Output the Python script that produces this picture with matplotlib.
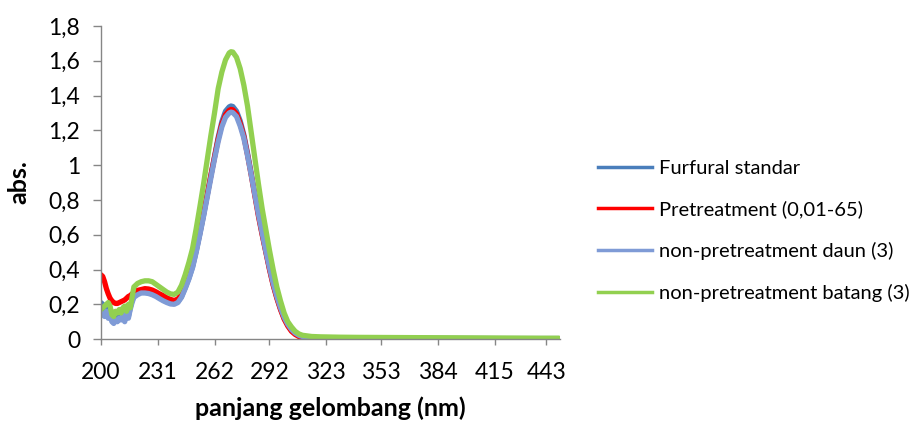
import matplotlib
matplotlib.use("Agg")
import matplotlib.pyplot as plt
from matplotlib.lines import Line2D

plt.rcParams['font.family'] = ['Lato', 'DejaVu Sans']

series_names = ["Furfural standar", "Pretreatment (0,01-65)",
                "non-pretreatment daun (3)", "non-pretreatment batang (3)"]
series_colors = ["#4A7EBB", "#FF0000", "#7F9BD6", "#92D050"]

wavelength = [200, 201, 202, 203, 204, 205, 206, 207, 208, 209, 210, 211, 212, 213,
              214, 215, 216, 217, 218, 220, 222, 224, 226, 228, 230, 232, 234, 236,
              238, 240, 242, 244, 246, 248, 250, 252, 254, 256, 258, 260, 262, 264,
              266, 268, 270, 271, 272, 274, 276, 278, 280, 282, 284, 286, 288, 290,
              292, 294, 296, 298, 300, 302, 304, 306, 308, 310, 315, 320, 330, 340,
              360, 380, 400, 420, 440, 450]

furfural = [0.21, 0.20, 0.17, 0.19, 0.14, 0.15, 0.11, 0.10, 0.12, 0.11, 0.13, 0.12,
            0.15, 0.11, 0.16, 0.13, 0.18, 0.22, 0.245, 0.26, 0.27, 0.27, 0.267, 0.26,
            0.25, 0.237, 0.225, 0.215, 0.207, 0.205, 0.215, 0.245, 0.295, 0.35, 0.415,
            0.505, 0.605, 0.71, 0.825, 0.94, 1.05, 1.16, 1.25, 1.31, 1.335, 1.34,
            1.337, 1.31, 1.255, 1.175, 1.07, 0.955, 0.835, 0.715, 0.605, 0.505, 0.405,
            0.315, 0.24, 0.175, 0.12, 0.08, 0.05, 0.032, 0.02, 0.013, 0.008, 0.006,
            0.005, 0.005, 0.004, 0.004, 0.003, 0.003, 0.003, 0.003]

pretreatment = [0.37, 0.36, 0.33, 0.29, 0.26, 0.235, 0.22, 0.21, 0.205, 0.205, 0.21,
                0.215, 0.22, 0.225, 0.235, 0.245, 0.25, 0.26, 0.265, 0.28, 0.285, 0.29,
                0.288, 0.282, 0.272, 0.26, 0.25, 0.237, 0.228, 0.222, 0.23, 0.26, 0.31,
                0.36, 0.425, 0.515, 0.615, 0.72, 0.83, 0.94, 1.045, 1.15, 1.235, 1.29,
                1.315, 1.32, 1.318, 1.295, 1.24, 1.165, 1.06, 0.945, 0.825, 0.705, 0.60,
                0.50, 0.40, 0.31, 0.235, 0.17, 0.115, 0.075, 0.045, 0.027, 0.015, 0.008,
                0.003, 0.002, 0.002, 0.002, 0.002, 0.002, 0.002, 0.002, 0.002, 0.002]

daun = [0.15, 0.14, 0.13, 0.16, 0.12, 0.14, 0.10, 0.09, 0.11, 0.10, 0.12, 0.11, 0.14,
        0.10, 0.15, 0.12, 0.17, 0.21, 0.24, 0.255, 0.265, 0.265, 0.262, 0.255, 0.245,
        0.232, 0.22, 0.21, 0.202, 0.20, 0.21, 0.24, 0.29, 0.345, 0.41, 0.50, 0.60,
        0.705, 0.815, 0.925, 1.035, 1.135, 1.22, 1.275, 1.30, 1.305, 1.302, 1.28, 1.225,
        1.155, 1.055, 0.945, 0.83, 0.715, 0.61, 0.505, 0.41, 0.32, 0.245, 0.18, 0.125,
        0.085, 0.055, 0.035, 0.022, 0.015, 0.009, 0.007, 0.006, 0.005, 0.005, 0.004,
        0.004, 0.003, 0.003, 0.003]

batang = [0.17, 0.18, 0.19, 0.20, 0.21, 0.19, 0.14, 0.13, 0.16, 0.15, 0.17, 0.15, 0.18,
          0.19, 0.16, 0.20, 0.18, 0.24, 0.30, 0.32, 0.33, 0.335, 0.335, 0.33, 0.315,
          0.30, 0.285, 0.27, 0.26, 0.257, 0.27, 0.31, 0.37, 0.44, 0.52, 0.635, 0.76,
          0.89, 1.03, 1.17, 1.30, 1.44, 1.535, 1.605, 1.645, 1.652, 1.65, 1.62, 1.555,
          1.46, 1.34, 1.19, 1.04, 0.89, 0.75, 0.63, 0.51, 0.40, 0.30, 0.22, 0.15, 0.10,
          0.07, 0.045, 0.03, 0.022, 0.015, 0.013, 0.011, 0.010, 0.009, 0.008, 0.007,
          0.006, 0.005, 0.005]

x_ticks = [200, 231, 262, 292, 323, 353, 384, 415, 443]
y_ticks = [0, 0.2, 0.4, 0.6, 0.8, 1.0, 1.2, 1.4, 1.6, 1.8]
y_ticklabels = ["0", "0,2", "0,4", "0,6", "0,8", "1", "1,2", "1,4", "1,6", "1,8"]

fig = plt.figure(figsize=(9.09, 4.26), dpi=100)
ax = fig.add_axes([0.111, 0.204, 0.505, 0.735])

all_series = [furfural, pretreatment, daun, batang]
for vals, col in zip(all_series, series_colors):
    ax.plot(wavelength, vals, color=col, lw=3.8, solid_capstyle='round',
            solid_joinstyle='round')

ax.set_xlim(200, 450.5)
ax.set_ylim(0, 1.8)
ax.set_xticks(x_ticks)
ax.set_xticklabels([str(t) for t in x_ticks])
ax.set_yticks(y_ticks)
ax.set_yticklabels(y_ticklabels)

for s in ['top', 'right']:
    ax.spines[s].set_visible(False)
for s in ['left', 'bottom']:
    ax.spines[s].set_color('#868686')
    ax.spines[s].set_linewidth(1.0)

ax.tick_params(axis='both', direction='out', color='#868686',
               width=1.0, labelsize=16.5, labelcolor='black')
ax.tick_params(axis='x', pad=12.5, length=4)
ax.tick_params(axis='y', pad=9, length=6)

ax.set_xlabel("panjang gelombang (nm)", fontsize=18, fontweight='bold', labelpad=10)
ax.set_ylabel("abs.", fontsize=18, fontweight='bold')
ax.yaxis.set_label_coords(-0.153, 0.5)

handles = [Line2D([0], [0], color=c, lw=2.5) for c in series_colors]
fig.legend(handles, series_names, loc='upper left',
           bbox_to_anchor=(0.658, 0.6256), frameon=False, fontsize=14.5,
           handlelength=2.7, handletextpad=0.3, labelspacing=1.18,
           borderpad=0, borderaxespad=0)

fig.savefig("out.png", dpi=100)
